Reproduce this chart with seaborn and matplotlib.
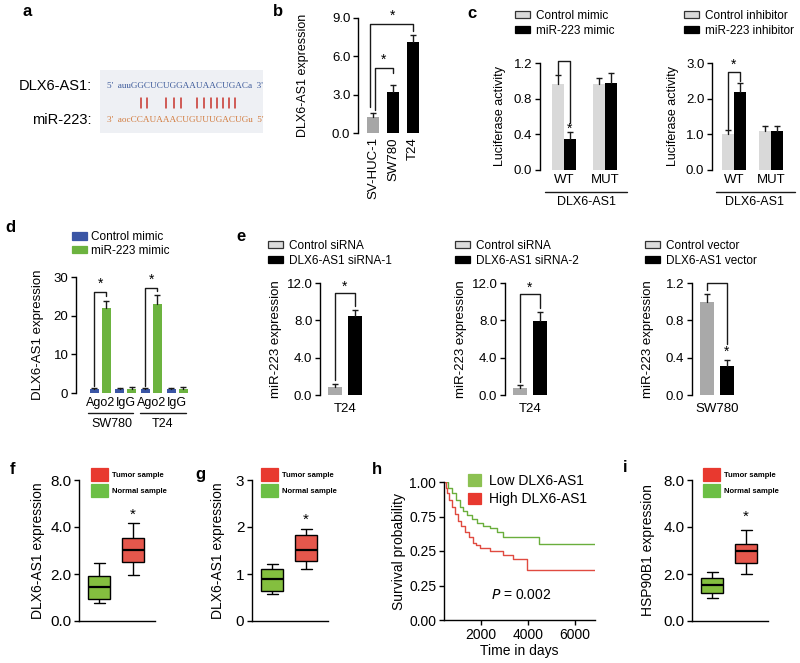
import numpy as np
import pandas as pd
import matplotlib
matplotlib.use("Agg")
import matplotlib.pyplot as plt
import seaborn as sns
from matplotlib.patches import Patch, Rectangle
from matplotlib.lines import Line2D

# ---------------- data ----------------
# a: base pairing
seq_lnc = "5'  auuGGCUCUGGAAUAACUGACa  3'"
seq_mir = "3'  aocCCAUAAACUGUUUGACUGu  5'"

# b
b_cells = ["SV-HUC-1", "SW780", "T24"]
b_expr = [1.25, 3.2, 7.1]
b_err = [0.35, 0.55, 0.6]

# c
c_sites = ["WT", "MUT"]
c_ctrl_mimic = [0.97, 0.97]
c_ctrl_mimic_err = [0.09, 0.06]
c_mir_mimic = [0.35, 0.98]
c_mir_mimic_err = [0.08, 0.11]
c_ctrl_inh = [1.0, 1.1]
c_ctrl_inh_err = [0.12, 0.13]
c_mir_inh = [2.2, 1.1]
c_mir_inh_err = [0.25, 0.12]

# d
d_cats = ["SW780 Ago2", "SW780 IgG", "T24 Ago2", "T24 IgG"]
d_ticklabels = ["Ago2", "IgG", "Ago2", "IgG"]
d_ctrl = [1.0, 1.0, 1.0, 1.0]
d_ctrl_err = [0.4, 0.4, 0.4, 0.4]
d_mir = [22.0, 1.0, 23.0, 1.0]
d_mir_err = [1.8, 0.6, 2.4, 0.6]

# e
e1_ctrl, e1_ctrl_err, e1_si, e1_si_err = [0.9], [0.3], [8.5], [0.6]
e2_ctrl, e2_ctrl_err, e2_si, e2_si_err = [0.75], [0.3], [7.9], [1.0]
e3_ctrl, e3_ctrl_err, e3_vec, e3_vec_err = [1.0], [0.08], [0.31], [0.07]

# f, g, i : box summaries (low whisker, Q1, median, Q3, high whisker)
f_normal = [0.77, 0.95, 1.45, 1.91, 2.46]
f_tumor = [1.95, 2.5, 3.04, 3.54, 4.3]
g_normal = [0.57, 0.64, 0.9, 1.1, 1.22]
g_tumor = [1.1, 1.28, 1.52, 1.84, 1.95]
i_normal = [0.98, 1.21, 1.53, 1.81, 2.08]
i_tumor = [2.0, 2.46, 3.0, 3.29, 3.87]

# h : Kaplan-Meier step points
h_low_t = [426, 600, 766, 950, 1106, 1250, 1400, 1600, 1830, 2100, 2380, 2680, 2940, 4470, 6850]
h_low_s = [1.0, 0.96, 0.92, 0.87, 0.82, 0.79, 0.76, 0.73, 0.70, 0.68, 0.67, 0.64, 0.60, 0.55, 0.55]
h_high_t = [426, 500, 550, 650, 770, 900, 1020, 1150, 1320, 1500, 1660, 1800, 1960, 2380, 2940, 3360, 3960, 6850]
h_high_s = [1.0, 0.96, 0.92, 0.87, 0.82, 0.77, 0.72, 0.68, 0.64, 0.60, 0.56, 0.54, 0.52, 0.50, 0.47, 0.44, 0.36, 0.36]

# ---------------- style ----------------
sns.set_theme(style="ticks")
plt.rcParams["font.family"] = ["Liberation Sans", "DejaVu Sans"]
plt.rcParams.update({
    "axes.linewidth": 1.0, "axes.edgecolor": "black",
    "xtick.color": "black", "ytick.color": "black",
    "axes.labelcolor": "black", "text.color": "black",
})

BLACK = "#000000"
GREY_B = "#a6a6a6"
GREY_C = "#d9d9d9"
GREY_E = "#a9a9a9"
BLUE = "#3a55a5"
GREEN = "#6cb33f"
BOX_RED = "#e5574c"
BOX_GREEN = "#84bf3f"
LEG_RED = "#e8392f"
LEG_GREEN = "#6cbf45"
KM_GREEN = "#6aae3c"
KM_RED = "#e04a40"

W, H = 800, 663
fig = plt.figure(figsize=(W / 100, H / 100), dpi=100)


def add_ax(x0, y0, x1, y1):
    ax = fig.add_axes([x0 / W, 1 - y1 / H, (x1 - x0) / W, (y1 - y0) / H])
    ax._px = (x0, y0, x1, y1)
    return ax


def ftext(x, y, s, **kw):
    return fig.text(x / W, 1 - y / H, s, **kw)


def set_ylabel_px(ax, text, xc, fs):
    ax.set_ylabel(text, fontsize=fs)
    x0, y0, x1, y1 = ax._px
    ax.yaxis.set_label_coords((xc - x0) / (x1 - x0), 0.5)
    ax.yaxis.label.set_va("center")


def bar_centers(ax):
    ps = sorted(ax.patches, key=lambda p: p.get_x())
    return [p.get_x() + p.get_width() / 2 for p in ps]


def draw_err(ax, xs, vals, errs, capw=4.0):
    for x, v, e in zip(xs, vals, errs):
        ax.plot([x, x], [v, v + e], color="k", lw=1, zorder=3, clip_on=False)
    ax.plot(xs, [v + e for v, e in zip(vals, errs)], ls="none", marker="_",
            ms=capw, mew=1, color="k", zorder=3, clip_on=False)


def two_bar(ax, cats, names, v0, v1, e0, e1, colors, width, gap):
    n = len(cats)
    df = pd.DataFrame({"cat": cats * 2, "grp": [names[0]] * n + [names[1]] * n,
                       "val": v0 + v1})
    sns.barplot(data=df, x="cat", y="val", hue="grp", order=cats, hue_order=names,
                palette=colors, width=width, gap=gap, dodge=True, saturation=1,
                errorbar=None, legend=False, linewidth=0, ax=ax)
    xs = bar_centers(ax)
    vals, errs = [], []
    for i in range(n):
        vals += [v0[i], v1[i]]
        errs += [e0[i], e1[i]]
    draw_err(ax, xs, vals, errs)
    return xs


def bracket(ax, x1, x2, y, yl, yr):
    ax.plot([x1, x1, x2, x2], [yl, y, y, yr], color="k", lw=1, clip_on=False, zorder=4)


def star(ax, x, y, fs=10):
    ax.text(x, y, "*", ha="center", va="center", fontsize=fs, clip_on=False)


def style_bar_ax(ax, yticks, ylabels, fs):
    sns.despine(ax=ax, bottom=True)
    ax.set_yticks(yticks)
    ax.set_yticklabels(ylabels)
    ax.tick_params(axis="y", labelsize=fs, length=3.5, width=1, pad=2)
    ax.tick_params(axis="x", length=0, labelsize=fs, pad=3)
    ax.set_xlabel("")


def legend_px(x, y, labels, colors, edges, fs, hl, hh, sp, tp=0.5, bold=False):
    handles = [Patch(facecolor=c, edgecolor=e, linewidth=0.9) for c, e in zip(colors, edges)]
    prop = {"size": fs}
    if bold:
        prop["weight"] = "bold"
    fig.legend(handles, labels, loc="upper left", bbox_to_anchor=(x / W, 1 - y / H),
               bbox_transform=fig.transFigure, frameon=False, prop=prop,
               handlelength=hl, handleheight=hh, handletextpad=tp, labelspacing=sp,
               borderpad=0, borderaxespad=0)


def hline_px(x0, x1, y, color="k", lw=1):
    fig.add_artist(Line2D([x0 / W, x1 / W], [1 - y / H, 1 - y / H], color=color, lw=lw,
                          transform=fig.transFigure))


def vline_px(x, y0, y1, color="k", lw=1):
    fig.add_artist(Line2D([x / W, x / W], [1 - y0 / H, 1 - y1 / H], color=color, lw=lw,
                          transform=fig.transFigure))


# ---------------- panel labels ----------------
for lab, x, y in [("a", 27, 12), ("b", 278, 12), ("c", 472, 13), ("d", 10, 228),
                  ("e", 241, 236), ("f", 13, 470), ("g", 200, 474), ("h", 377, 470),
                  ("i", 625, 468)]:
    ftext(x, y, lab, fontsize=12, fontweight="bold", ha="center", va="center")

# ---------------- a ----------------
fig.add_artist(Rectangle((100 / W, 1 - 133 / H), 163 / W, 63 / H, transform=fig.transFigure,
                         facecolor="#eef0f4", edgecolor="none"))
ftext(92, 86, "DLX6-AS1:", ha="right", va="center", fontsize=10.5)
ftext(92, 120, "miR-223:", ha="right", va="center", fontsize=10.5)
ftext(107, 86, seq_lnc, ha="left", va="center", fontsize=6.6, color="#3c5a9a",
      family="Liberation Serif")
ftext(107, 120, seq_mir, ha="left", va="center", fontsize=6.6, color="#d27a3c",
      family="Liberation Serif")
for px in [141, 147, 166, 174, 181, 197, 204, 211, 217, 223, 229, 235]:
    vline_px(px, 98, 108, color="#c8322a", lw=1.1)

# ---------------- b ----------------
ax = add_ax(358, 18, 425, 133)
df_b = pd.DataFrame({"cell": b_cells, "expr": b_expr})
sns.barplot(data=df_b, x="cell", y="expr", hue="cell", order=b_cells, hue_order=b_cells,
            palette=[GREY_B, BLACK, BLACK], width=0.6, saturation=1, errorbar=None,
            legend=False, linewidth=0, ax=ax)
xs = bar_centers(ax)
draw_err(ax, xs, b_expr, b_err)
ax.set_xlim(-0.75, 2.6)
ax.set_ylim(0, 9)
style_bar_ax(ax, [0, 3, 6, 9], ["0.0", "3.0", "6.0", "9.0"], 9.5)
ax.set_xticks(range(3))
ax.set_xticklabels(b_cells, rotation=90, fontsize=9.5)
set_ylabel_px(ax, "DLX6-AS1 expression", 303, 9)
bracket(ax, xs[0] + 0.1, xs[1], 5.1, 1.8, 4.7)
star(ax, (xs[0] + xs[1]) / 2 + 0.05, 5.7)
bracket(ax, xs[0] - 0.15, xs[2], 8.5, 2.0, 8.0)
star(ax, (xs[0] + xs[2]) / 2, 9.15)

# ---------------- c ----------------
ax = add_ax(540, 63, 632, 170)
xs = two_bar(ax, c_sites, ["Control mimic", "miR-223 mimic"], c_ctrl_mimic, c_mir_mimic,
             c_ctrl_mimic_err, c_mir_mimic_err, [GREY_C, BLACK], 0.585, 0)
ax.set_xlim(-0.585, 1.66)
ax.set_ylim(0, 1.2)
style_bar_ax(ax, [0, 0.4, 0.8, 1.2], ["0.0", "0.4", "0.8", "1.2"], 9.5)
set_ylabel_px(ax, "Luciferase activity", 500, 9)
bracket(ax, xs[0], xs[1], 1.22, 1.08, 0.53)
star(ax, xs[1], 0.46)
legend_px(515, 10, ["Control mimic", "miR-223 mimic"], [GREY_C, BLACK], ["#333333", BLACK],
          8.5, 1.3, 0.55, 0.25)
hline_px(545, 627, 192)
ftext(586, 202, "DLX6-AS1", ha="center", va="center", fontsize=9)

ax = add_ax(712, 63, 800, 170)
xs = two_bar(ax, c_sites, ["Control inhibitor", "miR-223 inhibitor"], c_ctrl_inh, c_mir_inh,
             c_ctrl_inh_err, c_mir_inh_err, [GREY_C, BLACK], 0.65, 0)
ax.set_xlim(-0.59, 1.78)
ax.set_ylim(0, 3)
style_bar_ax(ax, [0, 1, 2, 3], ["0.0", "1.0", "2.0", "3.0"], 9.5)
set_ylabel_px(ax, "Luciferase activity", 673, 9)
bracket(ax, xs[0], xs[1], 2.75, 1.16, 2.5)
star(ax, (xs[0] + xs[1]) / 2, 2.95)
legend_px(684, 10, ["Control inhibitor", "miR-223 inhibitor"], [GREY_C, BLACK],
          ["#333333", BLACK], 8.5, 1.3, 0.55, 0.25)
hline_px(716, 795, 192)
ftext(755, 202, "DLX6-AS1", ha="center", va="center", fontsize=9)

# ---------------- d ----------------
ax = add_ax(76, 277, 195, 393)
xs = two_bar(ax, d_cats, ["Control mimic", "miR-223 mimic"], d_ctrl, d_mir,
             d_ctrl_err, d_mir_err, [BLUE, GREEN], 0.94, 0.25)
ax.set_xlim(-0.94, 3.7)
ax.set_ylim(0, 30)
style_bar_ax(ax, [0, 10, 20, 30], ["0", "10", "20", "30"], 9.5)
ax.set_xticks(range(4))
ax.set_xticklabels(d_ticklabels, fontsize=9)
set_ylabel_px(ax, "DLX6-AS1 expression", 38, 9.5)
bracket(ax, xs[0], xs[1], 26.1, 1.8, 25.0)
star(ax, (xs[0] + xs[1]) / 2, 28.3)
bracket(ax, xs[4], xs[5], 27.2, 1.8, 26.3)
star(ax, (xs[4] + xs[5]) / 2, 29.4)
legend_px(72, 231, ["Control mimic", "miR-223 mimic"], [BLUE, GREEN], [BLUE, GREEN],
          8.5, 1.3, 0.6, 0.15, tp=0.3)
hline_px(88, 133, 413)
hline_px(140, 186, 413)
ftext(112, 424, "SW780", ha="center", va="center", fontsize=9)
ftext(163, 424, "T24", ha="center", va="center", fontsize=9)

# ---------------- e ----------------
e_specs = [
    (320, e1_ctrl, e1_si, e1_ctrl_err, e1_si_err, "T24", ["Control siRNA", "DLX6-AS1 siRNA-1"],
     [0, 4, 8, 12], ["0.0", "4.0", "8.0", "12.0"], 12, 268, 276),
    (505, e2_ctrl, e2_si, e2_ctrl_err, e2_si_err, "T24", ["Control siRNA", "DLX6-AS1 siRNA-2"],
     [0, 4, 8, 12], ["0.0", "4.0", "8.0", "12.0"], 12, 455, 461),
    (692, e3_ctrl, e3_vec, e3_ctrl_err, e3_vec_err, "SW780", ["Control vector", "DLX6-AS1 vector"],
     [0, 0.4, 0.8, 1.2], ["0.0", "0.4", "0.8", "1.2"], 1.2, 645, 648),
]
e_axes = []
for (x0, vc, vs, ec, es, cell, names, yt, yl, ymax, legx, labx) in e_specs:
    ax = add_ax(x0, 283, x0 + 65, 395)
    xs = two_bar(ax, [cell], names, vc, vs, ec, es, [GREY_E, BLACK], 1.0, 0.3)
    ax.set_xlim(-0.625, 1.0)
    ax.set_ylim(0, ymax)
    style_bar_ax(ax, yt, yl, 9.5)
    ax.tick_params(axis="x", pad=6)
    set_ylabel_px(ax, "miR-223 expression", labx, 9.5)
    legend_px(legx, 240, names, ["#dcdcdc", BLACK], ["#333333", BLACK], 8.5, 1.3, 0.55, 0.25)
    e_axes.append((ax, xs))

ax, xs = e_axes[0]
bracket(ax, xs[0], xs[1], 10.9, 1.6, 9.5)
star(ax, (xs[0] + xs[1]) / 2, 11.6)
ax, xs = e_axes[1]
bracket(ax, xs[0], xs[1], 10.8, 1.4, 9.3)
star(ax, (xs[0] + xs[1]) / 2, 11.5)
ax, xs = e_axes[2]
bracket(ax, xs[0], xs[1], 1.2, 1.12, 0.55)
star(ax, xs[1], 0.46)


# ---------------- f, g, i ----------------
def fwd(y):
    y = np.asarray(y, float)
    return np.where(y <= 4, y / 2, 2 + (y - 4) / 4)


def inv(t):
    t = np.asarray(t, float)
    return np.where(t <= 2, t * 2, 4 + (t - 2) * 4)


def box_panel(x0, normal, tumor, cscale, yt, yl, ylabel, labx, star_y, legx):
    ax = add_ax(x0, 480, x0 + 76, 621)
    df = pd.DataFrame({"grp": ["Normal sample"] * len(normal) + ["Tumor sample"] * len(tumor),
                       "val": normal + tumor})
    sns.boxplot(data=df, x="grp", y="val", hue="grp", order=["Normal sample", "Tumor sample"],
                hue_order=["Normal sample", "Tumor sample"], palette=[BOX_GREEN, BOX_RED],
                width=0.65, saturation=1, linecolor="black", linewidth=1, legend=False,
                medianprops={"linewidth": 1.6}, ax=ax)
    if cscale:
        ax.set_yscale("function", functions=(fwd, inv))
    ax.set_xlim(-0.6, 1.65)
    ax.set_ylim(yt[0], yt[-1])
    ax.set_yticks(yt)
    ax.set_yticklabels(yl)
    ax.yaxis.set_minor_locator(matplotlib.ticker.NullLocator())
    sns.despine(ax=ax)
    ax.tick_params(axis="y", labelsize=11, length=3.5, width=1, pad=2)
    ax.tick_params(axis="x", length=0, labelbottom=False)
    ax.set_xlabel("")
    set_ylabel_px(ax, ylabel, labx, 10)
    star(ax, 1, star_y, fs=11)
    legend_px(legx, 468, ["Tumor sample", "Normal sample"], [LEG_RED, LEG_GREEN],
              [LEG_RED, LEG_GREEN], 5.5, 2.2, 2.2, 0.45, tp=0.5, bold=True)
    return ax


box_panel(79, f_normal, f_tumor, True, [0, 2, 4, 8], ["0.0", "2.0", "4.0", "8.0"],
          "DLX6-AS1 expression", 38, 5.0, 91)
box_panel(252, g_normal, g_tumor, False, [0, 1, 2, 3], ["0", "1", "2", "3"],
          "DLX6-AS1 expression", 218, 2.15, 261)
box_panel(692, i_normal, i_tumor, True, [0, 2, 4, 8], ["0.0", "2.0", "4.0", "8.0"],
          "HSP90B1 expression", 648, 4.85, 703)

# ---------------- h ----------------
ax = add_ax(444, 482, 595, 620)
df_h = pd.DataFrame({
    "t": h_low_t + h_high_t,
    "s": h_low_s + h_high_s,
    "grp": ["Low DLX6-AS1"] * len(h_low_t) + ["High DLX6-AS1"] * len(h_high_t),
})
sns.lineplot(data=df_h, x="t", y="s", hue="grp", hue_order=["Low DLX6-AS1", "High DLX6-AS1"],
             palette=[KM_GREEN, KM_RED], drawstyle="steps-post", lw=1, legend=False,
             estimator=None, ax=ax)
ax.set_xlim(426, 6850)
ax.set_ylim(0, 1)
ax.set_yticks([0, 0.25, 0.5, 0.75, 1.0])
ax.set_yticklabels(["0.00", "0.25", "0.25", "0.75", "1.00"])
ax.set_xticks([2000, 4000, 6000])
ax.set_xticklabels(["2000", "4000", "6000"])
sns.despine(ax=ax)
ax.tick_params(labelsize=10, length=3.5, width=1, pad=2)
ax.set_xlabel("Time in days", fontsize=10, labelpad=2)
set_ylabel_px(ax, "Survival probability", 399, 10)
ax.text(0.51, 0.18, "$P$ = 0.002", transform=ax.transAxes, ha="center", va="center", fontsize=10)
legend_px(468, 474, ["Low DLX6-AS1", "High DLX6-AS1"], ["#8cc152", LEG_RED],
          ["#8cc152", LEG_RED], 10, 0.9, 0.9, 0.3, tp=0.6)

fig.savefig("out.png", dpi=100, facecolor="white")
